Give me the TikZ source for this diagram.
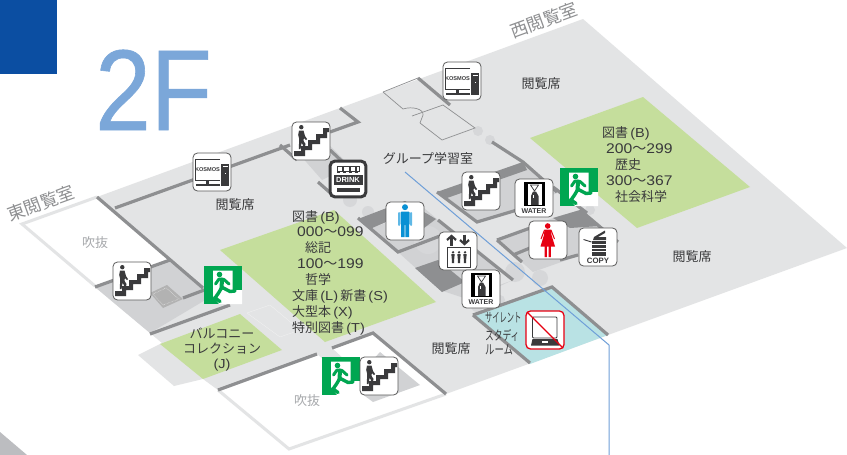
\documentclass[tikz,border=0pt]{standalone}
\usepackage{fontspec}
\usetikzlibrary{arrows.meta}
\setmainfont{Liberation Sans}
\newfontfamily\jp{Noto Sans CJK JP}
\newfontfamily\numf[FakeStretch=1.12]{Liberation Sans}
\newfontfamily\twof[FakeStretch=0.87,FakeBold=0.5]{Liberation Sans}
\definecolor{floorc}{HTML}{E3E4E5}
\definecolor{zonec}{HTML}{C5DE9C}
\definecolor{tealc}{HTML}{B9E2E4}
\definecolor{corec}{HTML}{D1D2D4}
\definecolor{blobc}{HTML}{D6D7D9}
\definecolor{darkc}{HTML}{8E8F91}
\definecolor{wallc}{HTML}{8E8F91}
\definecolor{inkc}{HTML}{3A3A3C}
\definecolor{voidc}{HTML}{A7A9AC}
\definecolor{exitc}{HTML}{00A651}
\definecolor{manc}{HTML}{0A91D4}
\definecolor{manl}{HTML}{5FB8E6}
\definecolor{womanc}{HTML}{E60012}
\definecolor{linec}{HTML}{6F9FD8}
\definecolor{bluec}{HTML}{0B4EA2}
\definecolor{twoc}{HTML}{7BA7D9}
\definecolor{cornerc}{HTML}{BCBDC0}
\tikzset{
  wall/.style={draw=wallc,line width=3.2pt,line cap=butt,line join=miter},
  thinwall/.style={draw=darkc,line width=.7pt},
  lbl/.style={inner sep=0pt,text=inkc,font=\fontsize{13}{13}\selectfont\jp},
  lnum/.style={inner sep=0pt,text=inkc,anchor=west,font=\fontsize{14}{14}\selectfont\numf},
  voidlbl/.style={inner sep=0pt,text=voidc,font=\fontsize{13}{13}\selectfont\jp},
  sidelbl/.style={inner sep=0pt,text=darkc,rotate=20,font=\fontsize{17.5}{17.5}\selectfont\jp},
  nlbl/.style={inner sep=0pt,text=inkc,anchor=west,transform shape,font=\fontsize{13}{13}\selectfont\jp},
  box/.style={draw=black!65,line width=.8pt,fill=white,rounded corners=4.5pt},
  stairicon/.pic={
    \path[box] (0,0) rectangle (38,38);
    \fill[inkc] (2,29)--(9,29)--(9,24)--(16,24)--(16,18)--(24,18)--(24,12)--(31,12)--(31,6)--(37,6)--(37,10)--(35,10)--(35,16)--(28,16)--(28,22)--(20,22)--(20,28)--(13,28)--(13,34)--(2,34)--cycle;
    \fill[inkc] (9.3,5.2) circle (2.2);
    \fill[inkc] (7,8.5)--(11.5,8.5)--(13,14)--(15,17)--(14,18)--(11.8,16)--(11.6,19)--(13.5,22)--(12.5,27)--(10.8,27)--(11,23)--(9.5,21)--(8.5,27)--(6.8,27)--(7.2,17)--(6.2,13)--cycle;
  },
  kosmosicon/.pic={
    \path[box] (0,0) rectangle (38,38);
    \draw[inkc,line width=.7pt] (27,6.5)--(2.5,6.5)--(2.5,27)--(27,27);
    \node[inner sep=0pt,text=inkc,font=\fontsize{5.6}{5.6}\selectfont\bfseries] (kt) at (14.5,17) {KOSMOS};
    \fill[inkc] (13,27) rectangle (16,31);
    \fill[inkc] (2.5,31) rectangle (27,33);
    \fill[inkc] (28,10.5) rectangle (36,33);
    \fill[white] (29.5,13) rectangle (34.5,13.8);
    \fill[white] (31.5,20) rectangle (32.5,21);
  },
  drinkicon/.pic={
    \path[box,draw=inkc,line width=3pt] (1.2,1.2) rectangle (36.8,36.8);
    \draw[inkc,line width=.9pt] (8,6.5) rectangle (13.5,11) (14.5,6.5) rectangle (20,11) (21,6.5) rectangle (26.5,11) (27.5,6.5) rectangle (30,11);
    \draw[inkc,line width=.8pt,dashed] (8,12.8)--(30,12.8);
    \fill[inkc] (4.5,15) rectangle (33.5,25);
    \node[inner sep=0pt,text=white,font=\fontsize{7.5}{7.5}\selectfont\bfseries] (dt) at (19,20) {DRINK};
    \fill[inkc] (7.5,27.5) rectangle (31,32);
  },
  watericon/.pic={
    \path[box] (0,0) rectangle (38,38);
    \fill[black] (9,2.5) rectangle (30,5);
    \fill[black] (9,2.5) rectangle (13,27);
    \fill[black] (27,2.5) rectangle (30,27);
    \fill[black] (13,25.5) rectangle (27,27);
    \draw[inkc,line width=.7pt] (15.5,6)--(19.5,12)--(23.5,6)--cycle;
    \fill[inkc] (16,17) -- (18,12.5) -- (21,12.5) -- (23.5,17) -- (23.5,26) -- (16,26) -- cycle;
    \fill[white] (18,16) rectangle (19,19);
    \node[inner sep=0pt,text=inkc,font=\fontsize{7}{7}\selectfont\bfseries] (wt) at (19,32.5) {WATER};
  },
  exiticon/.pic={
    \fill[exitc] (0,0) rectangle (38,38);
    \fill[white] (9,4.5)--(28.5,4.5)--(28.5,24)--(38,24)--(38,38)--(15,38)--(9,30)--cycle;
    \fill[exitc] (15.5,8.5) circle (2.8);
    \draw[exitc,line width=3pt,line cap=round,line join=round] (11.5,18)--(15,13)--(20,13.5)--(25,18);
    \draw[exitc,line width=4pt,line cap=round,line join=round] (18,13.5)--(17.5,22);
    \draw[exitc,line width=3.4pt,line cap=round,line join=round] (17.5,21)--(26,25.5)--(31,25);
    \draw[exitc,line width=3.4pt,line cap=round,line join=round] (17.5,22)--(14.5,27)--(11,32)--(16,35.5);
  },
  manicon/.pic={
    \path[box] (0,0) rectangle (38,38);
    \fill[manc] (19,5.2) circle (3);
    \fill[manc,rounded corners=1pt] (14.5,9.5) rectangle (23.5,23);
    \fill[manc] (15,22) rectangle (18.6,35) (19.4,22) rectangle (23,35);
    \fill[manl,rounded corners=1pt] (12,10) rectangle (14,24) (24,10) rectangle (26,24);
  },
  womanicon/.pic={
    \path[box] (0,0) rectangle (38,38);
    \fill[womanc] (18.7,5) circle (2.8);
    \fill[womanc] (15.5,8.5)--(22,8.5)--(22.5,14)--(26,25.5)--(11.5,25.5)--(15,14)--cycle;
    \draw[womanc,line width=1pt] (15.5,9)--(12,18) (22,9)--(25.5,18);
    \fill[womanc] (15.5,25) rectangle (17.8,36) (19.6,25) rectangle (21.9,36);
  },
  copyicon/.pic={
    \path[box] (0,0) rectangle (38,38);
    \fill[inkc] (14,12)--(15,9)--(26,2.5)--(26,5)--(19,9)--(27,9)--(27,12)--cycle;
    \fill[inkc] (12.5,12.8) rectangle (27,27.5);
    \foreach \yy in {16,19.5,23}{\fill[white] (12.5,\yy) rectangle (27,\yy+.6);}
    \draw[inkc,line width=.9pt] (4.5,11.5)--(12.5,14);
    \node[inner sep=0pt,text=inkc,font=\fontsize{7.8}{7.8}\selectfont\bfseries] (ct) at (19,32.8) {COPY};
  },
  elevicon/.pic={
    \path[box] (0,0) rectangle (38,38);
    \draw[inkc,line width=2.2pt,-{Straight Barb[length=4pt,width=9pt]}] (12.5,13.5)--(12.5,2.5);
    \draw[inkc,line width=2.2pt,-{Straight Barb[length=4pt,width=9pt]}] (25.5,2.5)--(25.5,13.5);
    \draw[inkc,line width=.9pt] (8.5,15.5) rectangle (31,35);
    \foreach \xx in {14,20,26}{
      \fill[inkc] (\xx,20.3) circle (1.3);
      \fill[inkc] (\xx-1.7,22)--(\xx+1.7,22)--(\xx+1.2,27)--(\xx+1.2,31)--(\xx-1.2,31)--(\xx-1.2,27)--cycle;
    }
  },
  nolapicon/.pic={
    \path[box,draw=womanc,line width=1.3pt] (0,0) rectangle (38,38);
    \draw[inkc,line width=.9pt,rounded corners=1pt] (6.5,6) rectangle (31,27);
    \fill[inkc] (6.5,28)--(31.5,28)--(33.5,34.5)--(5,34.5)--cycle;
    \fill[white] (16,30) rectangle (22,31.5);
    \draw[womanc,line width=1.2pt] (1,1)--(37,37);
  }
}
\begin{document}
\begin{tikzpicture}[x=1pt,y=-1pt]
\useasboundingbox (0,0) rectangle (847,455);
\fill[white] (0,0) rectangle (847,455);
\fill[bluec] (0,0) rectangle (57,74);
\fill[cornerc] (0,432)--(27,455)--(0,455)--cycle;
\node[inner sep=0pt,anchor=base west,text=twoc,font=\fontsize{115}{115}\selectfont\twof] (floorname) at (95,130) {2F};
% floor
\fill[floorc] (97,197)--(583,19)--(847,248)--(446,394)--(373,333)--(332,348)--(345,360)--(330,365)--(317,354)--(218,390)--(203,379)--(174,386)--(138,355)--(162,343)--(150,333)--(95,287)--(170,260)--cycle;
% voids
\draw[floorc,line width=3pt] (97,197)--(22,224)--(95,286);
\draw[floorc,line width=3pt] (218,390)--(289,449)--(446,394);
% zones
\fill[zonec] (220,250)--(334,210)--(436,302)--(325,342)--cycle;
\fill[zonec] (530,138)--(643,97)--(750,187)--(637,228)--cycle;
\fill[zonec] (160,344)--(240,314)--(282,350)--(203,379)--cycle;
\fill[tealc] (473,315)--(552,287)--(608,335)--(530,364)--cycle;
% left stair room
\fill[corec] (95,287)--(170,260)--(212,296)--(150,333)--cycle;
\fill[black!30] (167,285)--(183,299)--(163,308)--(150,293)--cycle;
\draw[white,line width=.4pt,densely dotted] (166,288)--(179,299)--(163,305)--(153,294)--cycle;
\draw[white,opacity=.45,line width=.4pt] (247,313)--(270,305)--(300,330)--(280,337)--cycle;
\fill[corec] (380,352)--(420,385)--(373,402)--(350,385)--cycle;
% core fills
\fill[corec] (300,155)--(330,146)--(350,166)--(322,180)--cycle;
\fill[corec] (370,229)--(424,208)--(438,220)--(440,236)--(398,252)--cycle;
\fill[corec] (398,252)--(438,220)--(513,280)--(470,300)--(440,290)--cycle;
\fill[corec] (437,192)--(523,162)--(557,193)--(517,210)--(477,222)--cycle;
\fill[corec] (497,240)--(553,218)--(580,210)--(618,242)--(533,272)--cycle;
\fill[blobc] (478,131) circle (5) (490,140) circle (5) (350,200) circle (7) (368,212) circle (6) (428,240) circle (14) (515,272) circle (10) (540,278) circle (8) (477,306) circle (6) (500,300) circle (5) (590,210) circle (5);
\fill[floorc] (500,268)--(513,280)--(480,292)--(470,282)--cycle;
% dark patches
\fill[darkc] (358,219)--(405,201)--(436,219)--(424,228)--(386,222)--(370,229)--cycle;
\fill[darkc] (415,268)--(438,260)--(465,282)--(442,292)--cycle;
\fill[darkc] (553,218)--(580,210)--(600,226)--(570,228)--cycle;
\fill[darkc] (437,192)--(523,162)--(527,170)--(447,198)--cycle;
% walls
\draw[wall] (97,197)--(203,288);
\draw[wall] (95,287)--(170,260);
\draw[wall] (183,298)--(207,289);
\draw[wall] (150,334)--(230,305);
\draw[wall] (115,208)--(290,145);
\draw[wall] (280,145)--(297,160);
\draw[wall] (330,132)--(358,122)--(340,108);
\draw[wall] (330,150)--(348,167);
\draw[wall] (318,182)--(335,197);
\draw[wall] (418,78)--(450,105);
\draw[wall] (492,142)--(523,162)--(557,192);
\draw[wall] (553,187)--(587,213);
\draw[wall] (358,218)--(398,252)--(440,236);
\draw[wall] (438,220)--(513,280);
\draw[wall] (437,192)--(477,222)--(517,210);
\draw[wall] (497,240)--(533,227);
\draw[wall] (497,240)--(522,262);
\draw[wall] (513,255)--(530,248);
\draw[wall] (560,260)--(578,255);
\draw[wall] (580,210)--(618,242);
\draw[wall] (473,315)--(552,287)--(608,335);
\draw[wall] (473,315)--(530,363);
\draw[wall] (218,390)--(317,354);
\draw[wall] (332,348)--(373,333)--(446,394);
% group study room
\draw[thinwall] (383,92)--(418,78);
\draw[thinwall] (443,105)--(475,128)--(442,140)--(420,123);
\draw[thinwall] (383,92)--(403,109) .. controls (412,106) and (424,109) .. (423,115)--(420,123);
\draw[thinwall] (412,116)--(443,105);
% route line
\draw[linec,line width=1pt] (405,172)--(609,345)--(609,455);
% labels
\node[sidelbl] (east) at (41,203) {東閲覧室};
\node[sidelbl] (west) at (544,20) {西閲覧室};
\node[voidlbl] (voidA) at (95,243) {吹抜};
\node[voidlbl] (voidB) at (307,401) {吹抜};
\node[lbl] (seatA) at (235,205) {閲覧席};
\node[lbl] (seatB) at (541,84) {閲覧席};
\node[lbl] (seatC) at (692,257) {閲覧席};
\node[lbl] (seatD) at (451,349) {閲覧席};
\node[lbl] (group) at (428,159) {グループ学習室};
\node[lbl,anchor=west] (a1) at (292,217) {図書\,{\numf (B)}};
\node[lnum] (a2) at (297,232) {000{\jp ～}099};
\node[lbl,anchor=west] (a3) at (305,248) {総記};
\node[lnum] (a4) at (297,264) {100{\jp ～}199};
\node[lbl,anchor=west] (a5) at (305,280) {哲学};
\node[lbl,anchor=west] (a6) at (292,296) {文庫\,{\numf (L)}\,新書\,{\numf (S)}};
\node[lbl,anchor=west] (a7) at (292,312) {大型本\,{\numf (X)}};
\node[lbl,anchor=west] (a8) at (292,328) {特別図書\,{\numf (T)}};
\node[lbl,anchor=west] (b1) at (602,133) {図書\,{\numf (B)}};
\node[lnum] (b2) at (606,149) {200{\jp ～}299};
\node[lbl,anchor=west] (b3) at (615,165) {歴史};
\node[lnum] (b4) at (606,181) {300{\jp ～}367};
\node[lbl,anchor=west] (b5) at (615,197) {社会科学};
\node[lbl] (c1) at (222,333) {バルコニー};
\node[lbl] (c2) at (222,349) {コレクション};
\node[lbl] (c3) at (222,365) {{\numf (J)}};
\node[nlbl,xscale=.56] (s1) at (485,318) {サイレント};
\node[nlbl,xscale=.67] (s2) at (485,335) {スタディ};
\node[nlbl,xscale=.72] (s3) at (485,350) {ルーム};
% icons
\pic at (193,153) {kosmosicon};
\pic at (443,62) {kosmosicon};
\pic at (292,122) {stairicon};
\pic at (329,160) {drinkicon};
\pic at (462,172) {stairicon};
\pic at (515,179) {watericon};
\pic at (560,168) {exiticon};
\pic at (386,202) {manicon};
\pic at (529,221) {womanicon};
\pic at (579,228) {copyicon};
\pic at (439,232) {elevicon};
\pic at (462,270) {watericon};
\pic at (526,311) {nolapicon};
\pic at (113,262) {stairicon};
\pic at (204,266) {exiticon};
\pic at (322,357) {exiticon};
\pic at (360,357) {stairicon};
\end{tikzpicture}
\end{document}
